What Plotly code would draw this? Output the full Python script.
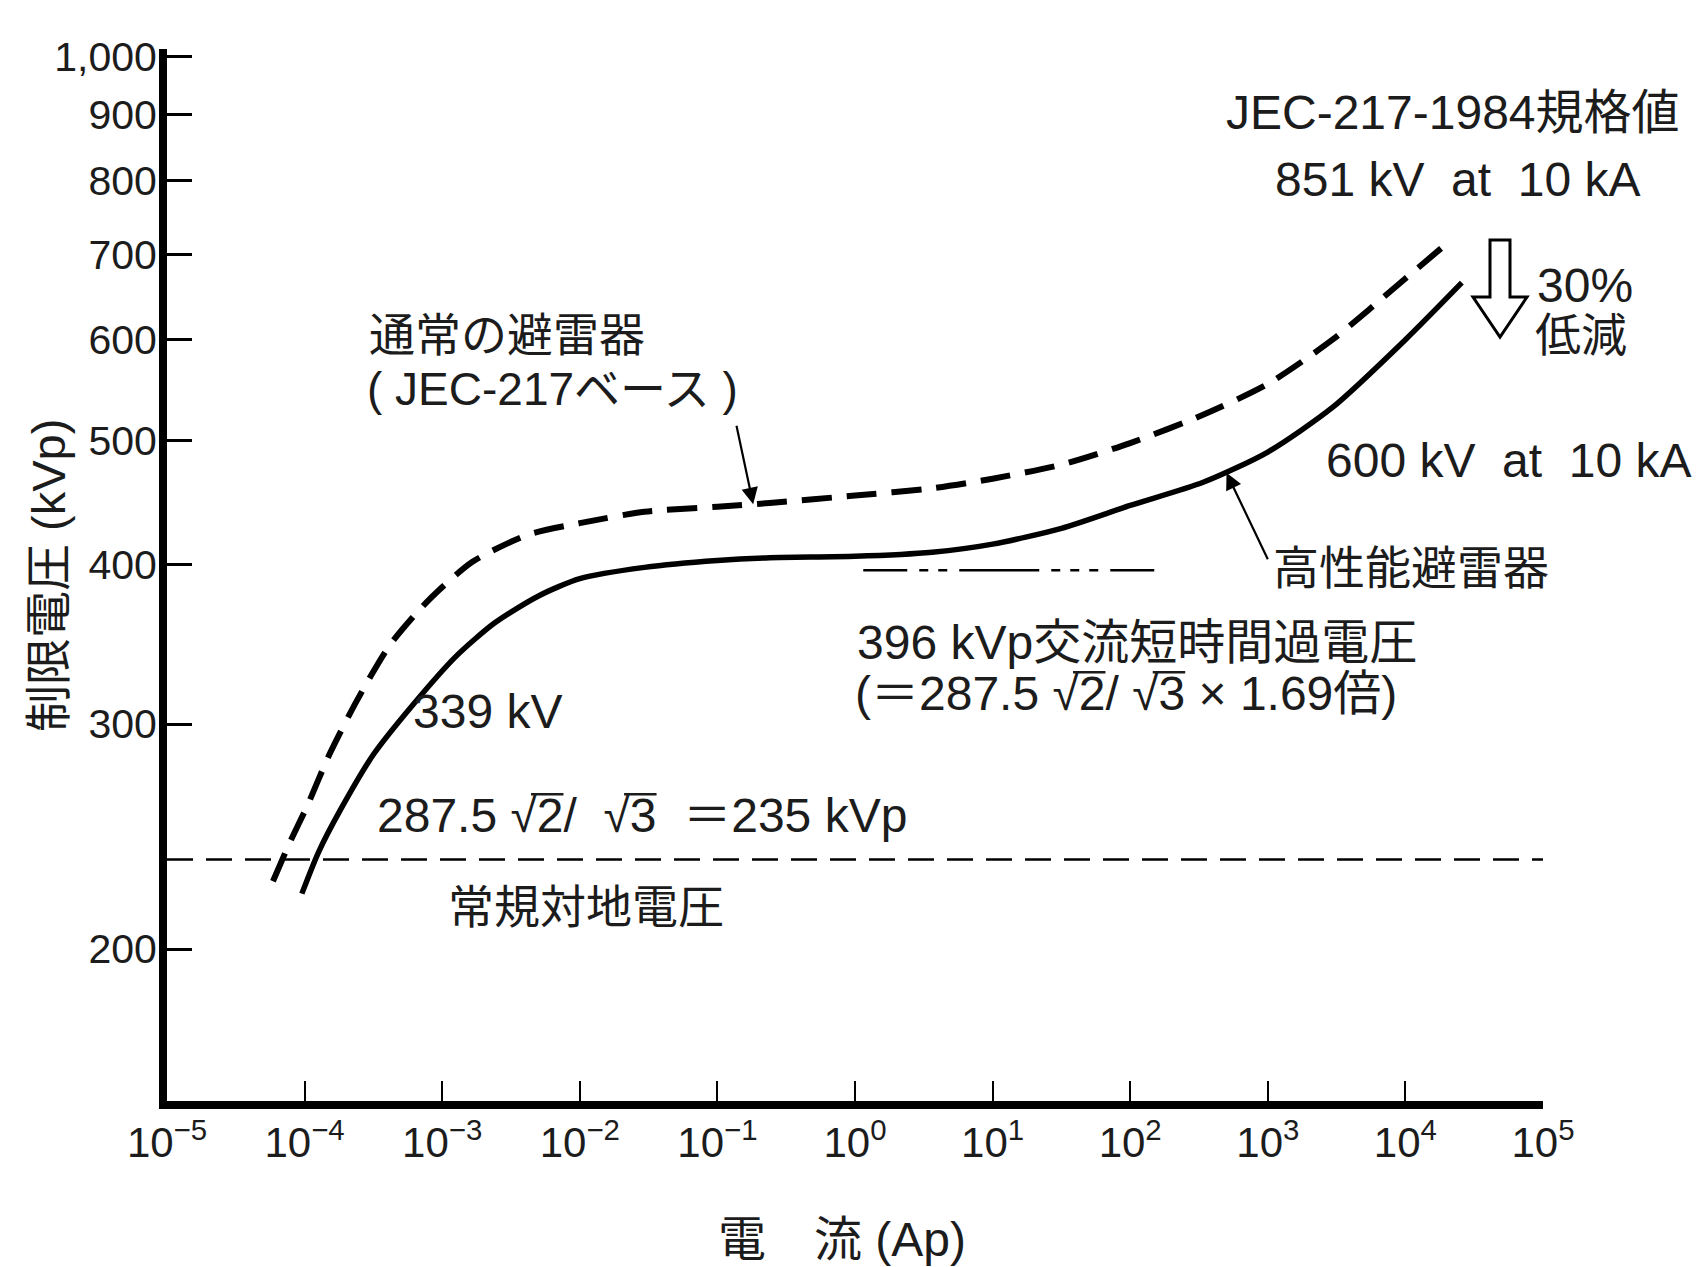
import numpy as np
import plotly.graph_objects as go

# Residual voltage vs. discharge current (current given as log10 of A)
std_log_i = [-4.23, -4.11, -3.98, -3.82, -3.62, -3.38, -3.10, -2.78, -2.38, -2.00, -1.53,
             -1.00, -0.62, 0.00, 0.56, 1.00, 1.50, 2.00, 2.53, 3.00, 3.47, 4.00, 4.31]
std_kv = [226, 242, 259, 284, 313, 346, 375, 402, 422, 431, 440,
          444, 447, 453, 459, 467, 479, 498, 524, 554, 600, 670, 715]

hp_log_i = [-4.02, -3.90, -3.74, -3.50, -3.22, -2.90, -2.62, -2.30, -2.00, -1.53,
            -1.00, -0.62, 0.00, 0.56, 1.00, 1.50, 2.00, 2.53, 3.00, 3.47, 4.00, 4.41]
hp_kv = [221, 238, 257, 284, 310, 339, 360, 378, 390, 398,
         403, 405, 406, 409, 415, 427, 445, 464, 490, 531, 600, 665]

# Reference voltage levels
ground_kv = 235          # 287.5*sqrt(2)/sqrt(3)
ground_log_span = [-5.0, 5.0]
tov_kv = 396             # 235 kVp x 1.69
tov_log_span = [0.06, 2.24]

# Axis ticks
x_exponents = list(range(-5, 6))
y_ticks = [200, 300, 400, 500, 600, 700, 800, 900, 1000]
y_tick_text = ["200", "300", "400", "500", "600", "700", "800", "900", "1,000"]

W, H = 1704, 1267
ML, MR, MT, MB = 167, 161, 49, 166
PW, PH = W - ML - MR, H - MT - MB

LAT = "Liberation Sans, Noto Sans CJK JP, sans-serif"
INK = "#1c1c1c"
FS = 48                       # body text size
EM = {"d": 0.556, ".": 0.278, "sp": 0.278, "/": 0.278, "(": 0.333,
      "root": 0.549, "wide": 1.0}  # advance widths (em) of the body font
PAD = 2                       # annotation border + pad


def pp(px, py):
    """Page pixel -> paper coordinates."""
    return (px - ML) / PW, (H - MB - py) / PH


def to_i(exps):
    return [10.0 ** e for e in exps]


fig = go.Figure()

fig.add_trace(go.Scatter(
    x=to_i(std_log_i), y=std_kv, mode="lines",
    line=dict(color="black", width=6, dash="30px,15px", shape="spline", smoothing=0.7),
    name="通常の避雷器", showlegend=False, hoverinfo="skip"))

fig.add_trace(go.Scatter(
    x=to_i(hp_log_i), y=hp_kv, mode="lines",
    line=dict(color="black", width=5.5, shape="spline", smoothing=0.7),
    name="高性能避雷器", showlegend=False, hoverinfo="skip"))

fig.add_trace(go.Scatter(
    x=to_i(ground_log_span), y=[ground_kv, ground_kv], mode="lines",
    line=dict(color="black", width=2.5, dash="26px,13px"),
    showlegend=False, hoverinfo="skip"))

fig.add_trace(go.Scatter(
    x=to_i(tov_log_span), y=[tov_kv, tov_kv], mode="lines",
    line=dict(color="black", width=2.5,
              dash="44px,12px,9px,10px,9px,12px,80px,12px,9px,10px,9px,10px,9px,12px"),
    showlegend=False, hoverinfo="skip"))

annotations = []
shapes = []


def label(text, px, py, anchor="left", size=FS, angle=0):
    x, y = pp(px, py)
    annotations.append(dict(
        text=text, x=x, y=y, xref="paper", yref="paper", xanchor=anchor, yanchor="middle",
        textangle=angle, showarrow=False, font=dict(size=size, family=LAT, color=INK)))


def vinculum(left_px, prefix, py):
    """Bar over the radicand that follows `prefix` (list of glyph classes)."""
    start = left_px + PAD + sum(EM[k] for k in prefix) * FS
    x0, y0 = pp(start - 0.12 * FS, py - 0.43 * FS)
    x1, _ = pp(start + EM["d"] * FS, py)
    shapes.append(dict(type="line", xref="paper", yref="paper", x0=x0, x1=x1, y0=y0, y1=y0,
                       line=dict(color=INK, width=2.5)))


NB = "\u00a0"

label("JEC-217-1984規格値", 1453, 112, "center")
label(f"851 kV{NB}{NB}at{NB}{NB}10 kA", 1458, 179, "center")
label("30%", 1535, 285)
label("低減", 1533, 335, size=46)
label(f"600 kV{NB}{NB}at{NB}{NB}10 kA", 1324, 460)
label("高性能避雷器", 1271, 568, size=46)
label("通常の避雷器", 367, 335, size=46)
label(f"({NB}JEC-217ベース{NB})", 365, 389, size=46)
label("339 kV", 411, 712)
label("396 kVp交流短時間過電圧", 855, 642)

# (＝287.5 √2/ √3 × 1.69倍)
label(f"(＝287.5{NB}√2/{NB}√3{NB}×{NB}1.69倍)", 853, 693)
head = ["(", "wide", "d", "d", "d", ".", "d", "sp", "root"]
vinculum(853, head, 693)
vinculum(853, head + ["d", "/", "sp", "root"], 693)

# 287.5 √2/ √3 ＝235 kVp
label(f"287.5{NB}√2/{NB}{NB}√3{NB}{NB}＝235{NB}kVp", 375, 815)
head = ["d", "d", "d", ".", "d", "sp", "root"]
vinculum(375, head, 815)
vinculum(375, head + ["d", "/", "sp", "sp", "root"], 815)

label("常規対地電圧", 446, 907, size=46)

# Axis titles
label(f"制限電圧{NB}(kVp)", 49, 576, "center", size=47, angle=-90)
label(f"電　流{NB}(Ap)", 842, 1239, "center", size=48)

# Leader arrows pointing at the two characteristics
annotations.append(dict(
    x=-0.74, y=np.log10(446), xref="x", yref="y", ax=-17, ay=-80, text="",
    showarrow=True, arrowhead=2, arrowsize=1.5, arrowwidth=2.2, arrowcolor="black"))
annotations.append(dict(
    x=2.70, y=np.log10(472), xref="x", yref="y", ax=42, ay=88, text="",
    showarrow=True, arrowhead=2, arrowsize=1.5, arrowwidth=2.2, arrowcolor="black"))

# Hollow "30% reduction" arrow
pts = [(1490, 240), (1510, 240), (1510, 297), (1527, 297), (1500, 337),
       (1473, 297), (1490, 297)]
path = "M " + " L ".join(f"{pp(a, b)[0]:.5f},{pp(a, b)[1]:.5f}" for a, b in pts) + " Z"
shapes.append(dict(type="path", path=path, xref="paper", yref="paper",
                   line=dict(color="black", width=3), fillcolor="white"))

fig.update_layout(
    width=W, height=H,
    margin=dict(l=ML, r=MR, t=MT, b=MB, autoexpand=False),
    paper_bgcolor="white", plot_bgcolor="white",
    annotations=annotations, shapes=shapes,
    xaxis=dict(
        type="log", range=[-5, 5],
        tickvals=[10.0 ** e for e in x_exponents],
        ticktext=[f"10<sup>{str(e).replace('-', '−')}</sup>" for e in x_exponents],
        ticks="inside", ticklen=20, tickwidth=2, tickcolor="black",
        showline=True, linecolor="black", linewidth=8, mirror=False,
        showgrid=False, zeroline=False,
        tickfont=dict(family=LAT, size=42, color=INK),
        ticklabelstandoff=-2,
    ),
    yaxis=dict(
        type="log", range=[2.182, 3.0058],
        tickvals=y_ticks, ticktext=y_tick_text,
        ticks="inside", ticklen=25, tickwidth=3, tickcolor="black",
        showline=True, linecolor="black", linewidth=8, mirror=False,
        showgrid=False, zeroline=False,
        tickfont=dict(family=LAT, size=41, color=INK),
        ticklabelstandoff=-6,
    ),
)

fig.write_html("out.html")
